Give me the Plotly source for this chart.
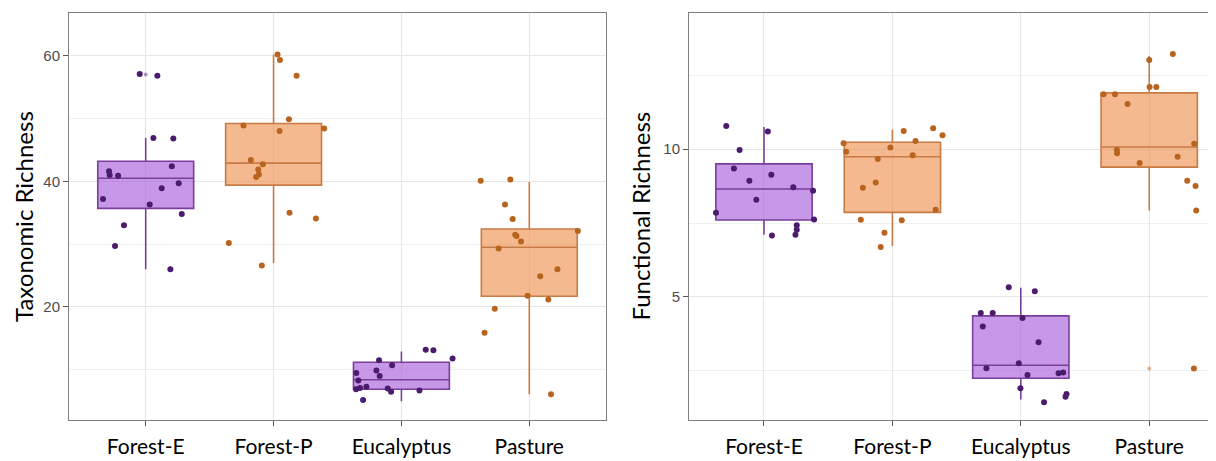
import plotly.graph_objects as go

categories = ["Forest-E", "Forest-P", "Eucalyptus", "Pasture"]
cat_index = [1, 2, 3, 4]

# ---------------- Taxonomic richness (left panel) ----------------
tax_forest_e = [57.1, 56.8, 46.9, 46.8, 42.4, 41.6, 41.0, 40.9, 39.7, 38.9,
                37.2, 36.3, 34.8, 33.0, 29.7, 26.0]
tax_forest_e_jit = [-0.047, 0.091, 0.06, 0.216, 0.204, -0.287, -0.282, -0.216, 0.258, 0.125,
                    -0.334, 0.031, 0.282, -0.17, -0.24, 0.193]
tax_forest_p = [60.2, 59.3, 56.8, 49.9, 48.9, 48.4, 48.0, 43.4, 42.7, 41.9,
                41.1, 40.7, 35.0, 34.1, 30.2, 26.6]
tax_forest_p_jit = [0.031, 0.05, 0.18, 0.12, -0.235, 0.396, 0.047, -0.178, -0.084, -0.12,
                    -0.115, -0.136, 0.125, 0.331, -0.35, -0.092]
tax_eucalyptus = [13.2, 13.1, 11.8, 11.5, 10.7, 9.5, 9.9, 9.0, 8.3, 6.9,
                  7.1, 7.3, 7.0, 6.5, 6.7, 5.2]
tax_eucalyptus_jit = [0.19, 0.25, 0.4, -0.175, -0.073, -0.353, -0.196, -0.17, -0.337, -0.355,
                      -0.324, -0.274, -0.107, -0.081, 0.141, -0.3]
tax_pasture = [40.1, 40.3, 36.3, 34.0, 32.1, 31.5, 31.3, 30.4, 29.3, 26.0,
               24.9, 21.8, 21.2, 19.7, 15.9, 6.1]
tax_pasture_jit = [-0.38, -0.148, -0.19, -0.13, 0.38, -0.11, -0.10, -0.065, -0.24, 0.22,
                   0.086, -0.013, 0.149, -0.27, -0.35, 0.17]
# box statistics: lower whisker, Q1, median, Q3, upper whisker
tax_lower = [26.0, 27.0, 5.0, 6.1]
tax_q1 = [35.7, 39.4, 6.9, 21.7]
tax_median = [40.5, 42.9, 8.4, 29.5]
tax_q3 = [43.2, 49.2, 11.2, 32.4]
tax_upper = [46.9, 60.2, 12.9, 39.9]
tax_outlier_cat = [1]
tax_outlier_val = [57.0]

# ---------------- Functional richness (right panel) ----------------
fun_forest_e = [10.78, 10.59, 9.97, 9.34, 9.13, 8.93, 8.71, 8.59, 8.29, 7.85,
                7.62, 7.42, 7.27, 7.10, 7.08]
fun_forest_e_jit = [-0.294, 0.03, -0.19, -0.234, 0.057, -0.114, 0.228, 0.382, -0.06, -0.374,
                    0.39, 0.255, 0.255, 0.245, 0.062]
fun_forest_p = [10.61, 10.70, 10.47, 10.27, 10.20, 9.91, 10.05, 9.79, 9.66, 8.87,
                8.69, 7.95, 7.61, 7.59, 7.17, 6.69]
fun_forest_p_jit = [0.088, 0.317, 0.39, 0.18, -0.38, -0.36, -0.016, 0.158, -0.114, -0.13,
                    -0.23, 0.337, -0.246, 0.073, -0.062, -0.091]
fun_eucalyptus = [5.33, 5.19, 4.46, 4.46, 4.29, 4.00, 3.47, 2.76, 2.59, 2.36,
                  2.42, 2.45, 1.91, 1.72, 1.63, 1.44]
fun_eucalyptus_jit = [-0.094, 0.109, -0.312, -0.219, 0.013, -0.296, 0.138, -0.016, -0.268, 0.052,
                      0.294, 0.33, -0.003, 0.356, 0.348, 0.181]
fun_pasture = [13.21, 13.01, 12.10, 12.10, 11.85, 11.85, 11.52, 10.18, 9.97, 9.86,
               9.74, 9.53, 8.93, 8.75, 7.92, 2.58]
fun_pasture_jit = [0.184, 0.0, 0.003, 0.055, -0.356, -0.267, -0.169, 0.35, -0.252, -0.25,
                   0.221, -0.075, 0.296, 0.361, 0.366, 0.348]
fun_lower = [7.10, 6.72, 1.53, 7.92]
fun_q1 = [7.60, 7.86, 2.25, 9.39]
fun_median = [8.65, 9.74, 2.69, 10.07]
fun_q3 = [9.50, 10.23, 4.36, 11.90]
fun_upper = [10.75, 10.66, 5.31, 13.15]
fun_outlier_cat = [4]
fun_outlier_val = [2.58]

# ---------------- styles ----------------
PURPLE_FILL = "rgba(157, 78, 214, 0.58)"
PURPLE_LINE = "#7a3e9c"
PURPLE_PT = "#4b1b6e"
ORANGE_FILL = "rgba(238, 138, 68, 0.6)"
ORANGE_LINE = "#c97b45"
ORANGE_PT = "#b8641f"
fills = [PURPLE_FILL, ORANGE_FILL, PURPLE_FILL, ORANGE_FILL]
lines = [PURPLE_LINE, ORANGE_LINE, PURPLE_LINE, ORANGE_LINE]
pts = [PURPLE_PT, ORANGE_PT, PURPLE_PT, ORANGE_PT]

fig = go.Figure()


def add_panel(xa, ya, lower, q1, med, q3, upper, groups, jits, out_cat, out_val):
    for i in range(4):
        fig.add_trace(go.Box(
            x=[cat_index[i]], q1=[q1[i]], median=[med[i]], q3=[q3[i]],
            lowerfence=[lower[i]], upperfence=[upper[i]],
            width=0.75, whiskerwidth=0, fillcolor=fills[i],
            line=dict(color=lines[i], width=1.6), boxpoints=False,
            hoverinfo="skip", showlegend=False, xaxis=xa, yaxis=ya))
    for oc, ov in zip(out_cat, out_val):
        fig.add_trace(go.Scatter(
            x=[oc], y=[ov], mode="markers",
            marker=dict(size=4, color=pts[oc - 1], opacity=0.45),
            showlegend=False, hoverinfo="skip", xaxis=xa, yaxis=ya))
    for i in range(4):
        fig.add_trace(go.Scatter(
            x=[cat_index[i] + j for j in jits[i]], y=groups[i], mode="markers",
            marker=dict(size=6, color=pts[i]),
            showlegend=False, hoverinfo="skip", xaxis=xa, yaxis=ya))


add_panel("x", "y", tax_lower, tax_q1, tax_median, tax_q3, tax_upper,
          [tax_forest_e, tax_forest_p, tax_eucalyptus, tax_pasture],
          [tax_forest_e_jit, tax_forest_p_jit, tax_eucalyptus_jit, tax_pasture_jit],
          tax_outlier_cat, tax_outlier_val)
add_panel("x2", "y2", fun_lower, fun_q1, fun_median, fun_q3, fun_upper,
          [fun_forest_e, fun_forest_p, fun_eucalyptus, fun_pasture],
          [fun_forest_e_jit, fun_forest_p_jit, fun_eucalyptus_jit, fun_pasture_jit],
          fun_outlier_cat, fun_outlier_val)

# page body has an 8px margin, so the figure is 8px smaller than the window
W, H = 1208, 453
GRID = "#e6e6e6"
MINOR = "#f0f0f0"
BORDER = "#808080"

xcommon = dict(tickvals=cat_index, ticktext=categories, showgrid=True, gridcolor=GRID,
               gridwidth=1, zeroline=False, showline=True, linecolor=BORDER, linewidth=1,
               ticks="outside", ticklen=5, tickcolor="#555555", ticklabelstandoff=3,
               tickfont=dict(family="Lato", size=21, color="#000000"))
ycommon = dict(showgrid=True, gridcolor=GRID, gridwidth=1, zeroline=False, showline=True,
               linecolor=BORDER, linewidth=1, ticks="outside", ticklen=5, tickcolor="#555555",
               tickfont=dict(family="Liberation Sans", size=15, color="#4d4d4d"))

fig.update_layout(
    width=W, height=H, autosize=False,
    margin=dict(l=0, r=0, t=5, b=41, pad=0),
    paper_bgcolor="white", plot_bgcolor="white",
    boxgap=0, boxgroupgap=0,
    xaxis=dict(domain=[61 / W, 598 / W], range=[0.4, 4.6], mirror=True, anchor="y", **xcommon),
    yaxis=dict(domain=[0, 1], range=[2.0, 66.8], tickvals=[20, 40, 60], mirror=True, anchor="x",
               minor=dict(tickvals=[10, 30, 50], showgrid=True, gridcolor=MINOR, ticks=""),
               **ycommon),
    xaxis2=dict(domain=[681 / W, 1.0], range=[0.416, 4.52], mirror=True, anchor="y2", **xcommon),
    yaxis2=dict(domain=[0, 1], range=[0.84, 14.6], tickvals=[5, 10], mirror=False, anchor="x2",
                minor=dict(tickvals=[2.5, 7.5, 12.5], showgrid=True, gridcolor=MINOR, ticks=""),
                **ycommon),
    annotations=[
        dict(text="Taxonomic Richness", x=0.0, y=0.5, xref="paper", yref="paper",
             textangle=-90, showarrow=False, xanchor="left", yanchor="middle", borderpad=0,
             font=dict(family="Lato", size=24, color="#000000")),
        dict(text="Functional Richness", x=632 / W, y=0.5, xref="paper", yref="paper",
             textangle=-90, showarrow=False, xanchor="center", yanchor="middle", borderpad=0,
             font=dict(family="Lato", size=24, color="#000000")),
    ],
)

fig.write_html("out.html")
